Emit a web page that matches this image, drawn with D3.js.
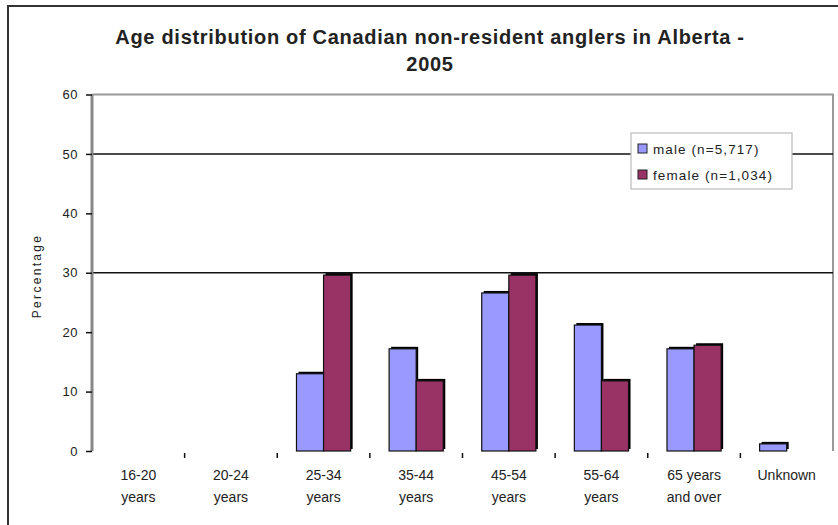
<!DOCTYPE html>
<meta charset="utf-8">
<style>
body { margin: 0; background: #fff; }
text { font-family: "Liberation Sans", Arial, sans-serif; fill: #222; }
</style>
<body>
<script src="https://cdn.jsdelivr.net/npm/d3@7"></script>
<script>

var width = 838,
    height = 525;

// data
var categories = ["16-20|years", "20-24|years", "25-34|years", "35-44|years",
                  "45-54|years", "55-64|years", "65 years|and over", "Unknown"];
var seriesNames = ["male (n=5,717)", "female (n=1,034)"];
var seriesColors = ["#9999ff", "#993366"];
var male   = [0, 0, 13.0, 17.2, 26.6, 21.2, 17.2, 1.2];
var female = [0, 0, 29.6, 11.8, 29.6, 11.8, 17.8, 0];
var yTicks = [0, 10, 20, 30, 40, 50, 60];
var gridValues = [30, 50];

var plotLeft = 92, plotRight = 833, plotTop = 94.5, plotBottom = 451;

var svg = d3.select("body").append("svg")
    .attr("width", width)
    .attr("height", height);

// outer chart border
svg.append("rect")
    .attr("x", 8).attr("y", 6)
    .attr("width", 880).attr("height", 540)
    .attr("fill", "none")
    .attr("stroke", "#333")
    .attr("stroke-width", 2);

// title
svg.append("text")
    .attr("x", 430).attr("y", 44)
    .attr("text-anchor", "middle")
    .style("font-size", "20px").style("font-weight", "bold")
    .style("letter-spacing", "0.7px")
    .text("Age distribution of Canadian non-resident anglers in Alberta -");
svg.append("text")
    .attr("x", 430).attr("y", 71)
    .attr("text-anchor", "middle")
    .style("font-size", "20px").style("font-weight", "bold")
    .style("letter-spacing", "0.7px")
    .text("2005");

var x0 = d3.scaleBand()
    .domain(categories)
    .range([plotLeft, plotRight]);

var x1 = d3.scaleBand()
    .domain([0, 1])
    .range([0, x0.bandwidth()])
    .paddingOuter(0.71);

var y = d3.scaleLinear()
    .domain([0, 60])
    .range([plotBottom, plotTop]);

// plot frame: gray top and right edges
svg.append("path")
    .attr("d", "M" + plotLeft + "," + y(60) + "H" + plotRight + "V" + plotBottom)
    .attr("fill", "none")
    .attr("stroke", "#999")
    .attr("stroke-width", 2);

// gridlines
svg.selectAll(".grid")
    .data(gridValues)
  .enter().append("line")
    .attr("class", "grid")
    .attr("x1", plotLeft).attr("x2", plotRight)
    .attr("y1", function(d) { return y(d); })
    .attr("y2", function(d) { return y(d); })
    .attr("stroke", "#111")
    .attr("stroke-width", 1.5);

// y axis
var yAxis = svg.append("g")
    .attr("transform", "translate(" + plotLeft + ",0)")
    .call(d3.axisLeft(y).tickValues(yTicks).tickSize(6).tickPadding(8));
yAxis.select(".domain").attr("stroke", "#888").attr("stroke-width", 3)
    .attr("d", "M0," + plotTop + "V" + plotBottom);
yAxis.selectAll(".tick line").attr("stroke", "#111").attr("stroke-width", 1.5);
yAxis.selectAll(".tick text")
    .style("font-size", "13px")
    .style("letter-spacing", "0.5px")
    .style("font-family", "Liberation Sans, Arial, sans-serif")
    .attr("fill", "#222");

svg.append("text")
    .attr("transform", "translate(41,276) rotate(-90)")
    .attr("text-anchor", "middle")
    .style("font-size", "12px")
    .style("letter-spacing", "2.3px")
    .text("Percentage");

// category tick marks between groups
var boundaries = categories.slice(1).map(function(c) { return x0(c); });
svg.selectAll(".ctick")
    .data(boundaries)
  .enter().append("line")
    .attr("class", "ctick")
    .attr("x1", function(d) { return d; })
    .attr("x2", function(d) { return d; })
    .attr("y1", plotBottom + 2).attr("y2", plotBottom + 7)
    .attr("stroke", "#111")
    .attr("stroke-width", 1.5);

// x labels, two lines each
var xl = svg.selectAll(".xlabel")
    .data(categories)
  .enter().append("text")
    .attr("class", "xlabel")
    .attr("text-anchor", "middle")
    .style("font-size", "14px")
    .attr("transform", function(d) { return "translate(" + (x0(d) + x0.bandwidth() / 2) + ",0)"; });
xl.selectAll("tspan")
    .data(function(d) { return d.split("|"); })
  .enter().append("tspan")
    .attr("x", 0)
    .attr("y", function(d, i) { return 480 + i * 22; })
    .text(function(d) { return d; });

// bars
var barData = [];
categories.forEach(function(c, i) {
  [male[i], female[i]].forEach(function(v, s) {
    if (v > 0) barData.push({cat: c, s: s, v: v});
  });
});

var bx = function(d) { return x0(d.cat) + x1(d.s); };

// dark offset edge behind each bar
svg.selectAll(".shadow")
    .data(barData)
  .enter().append("rect")
    .attr("class", "shadow")
    .attr("x", function(d) { return bx(d) + 2; })
    .attr("y", function(d) { return y(d.v) - 2; })
    .attr("width", x1.bandwidth())
    .attr("height", function(d) { return plotBottom - y(d.v); })
    .attr("fill", "#000");

svg.selectAll(".bar")
    .data(barData)
  .enter().append("rect")
    .attr("class", "bar")
    .attr("x", bx)
    .attr("y", function(d) { return y(d.v); })
    .attr("width", x1.bandwidth())
    .attr("height", function(d) { return plotBottom - y(d.v); })
    .attr("fill", function(d) { return seriesColors[d.s]; })
    .attr("stroke", "#111")
    .attr("stroke-width", 1.2);

// legend
var legend = svg.append("g").attr("transform", "translate(631,133)");
legend.append("rect")
    .attr("width", 161).attr("height", 56)
    .attr("fill", "#fff")
    .attr("stroke", "#bbb")
    .attr("stroke-width", 1.2);
var items = legend.selectAll(".item")
    .data(seriesNames)
  .enter().append("g")
    .attr("transform", function(d, i) { return "translate(7," + (11 + i * 26) + ")"; });
items.append("rect")
    .attr("width", 9).attr("height", 9)
    .attr("fill", function(d, i) { return seriesColors[i]; })
    .attr("stroke", "#222")
    .attr("stroke-width", 1);
items.append("text")
    .attr("x", 15).attr("y", 9.5)
    .style("font-size", "13.5px")
    .style("letter-spacing", "1.1px")
    .text(function(d) { return d; });

</script>
